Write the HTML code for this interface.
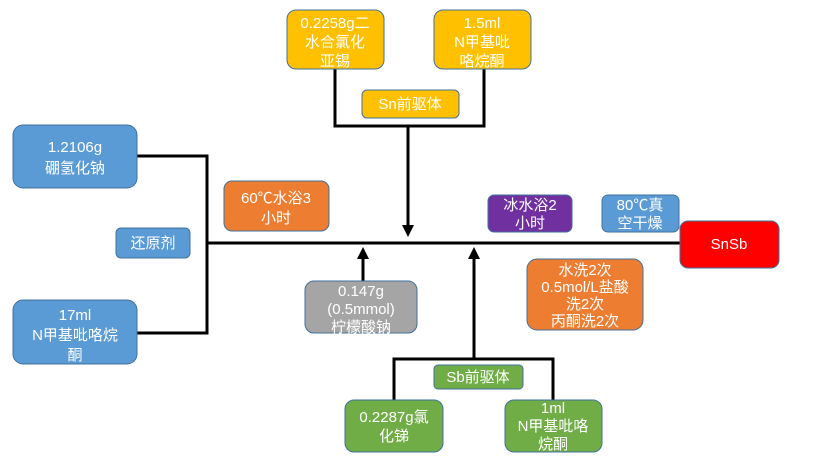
<!DOCTYPE html>
<html><head><meta charset="utf-8"><style>
body{margin:0;width:824px;height:462px;background:#fff;overflow:hidden}
svg text{font-family:"Liberation Sans","Noto Sans CJK SC",sans-serif;font-size:15px;fill:#fff;text-anchor:middle}
</style></head><body>
<svg width="824" height="462" viewBox="0 0 824 462" xmlns="http://www.w3.org/2000/svg">
<defs><marker id="a" markerWidth="12" markerHeight="12" refX="6" refY="6" orient="auto" markerUnits="userSpaceOnUse"><path d="M0,0 L12,6 L0,12 z" fill="#000"/></marker></defs>
<g stroke="#000" stroke-width="3" fill="none">
<path d="M137,156 H207 V333 H137"/>
<path d="M207,243 H680"/>
<path d="M335,69 V126 H484 V69"/>
<path d="M408,126 V231" marker-end="url(#a)"/>
<path d="M363,281 V253" marker-end="url(#a)"/>
<path d="M394,400 V359 H553 V400"/>
<path d="M474,359 V253" marker-end="url(#a)"/>
</g>
<g stroke="#41719c" stroke-width="1">
<rect x="13" y="125" width="124" height="63" rx="10" fill="#5b9bd5"/>
<rect x="13" y="300" width="124" height="64" rx="10" fill="#5b9bd5"/>
<rect x="116" y="228" width="74" height="30" rx="5" fill="#5b9bd5"/>
<rect x="287" y="10" width="97" height="59" rx="9" fill="#ffc000"/>
<rect x="434" y="10" width="97" height="59" rx="9" fill="#ffc000"/>
<rect x="362" y="90" width="97" height="28" rx="5" fill="#ffc000"/>
<rect x="224" y="181" width="105" height="50" rx="8" fill="#ed7d31"/>
<rect x="488" y="195" width="84" height="37" rx="6" fill="#7030a0"/>
<rect x="602" y="195" width="77" height="37" rx="6" fill="#5b9bd5"/>
<rect x="680" y="221" width="99" height="47" rx="8" fill="#ff0000"/>
<rect x="527" y="259" width="116" height="71" rx="10" fill="#ed7d31"/>
<rect x="305" y="281" width="112" height="52" rx="9" fill="#a5a5a5"/>
<rect x="434" y="365" width="89" height="24" rx="4" fill="#70ad47"/>
<rect x="345" y="400" width="98" height="52" rx="9" fill="#70ad47"/>
<rect x="505" y="400" width="97" height="52" rx="9" fill="#70ad47"/>
</g>
<text x="75" y="152">1.2106g</text><text x="75" y="173">硼氢化钠</text>
<text x="75" y="320">17ml</text><text x="75" y="340">N甲基吡咯烷</text><text x="75" y="360">酮</text>
<text x="153" y="248">还原剂</text>
<text x="335" y="28">0.2258g二</text><text x="335" y="47">水合氯化</text><text x="335" y="66">亚锡</text>
<text x="482" y="28">1.5ml</text><text x="482" y="47">N甲基吡</text><text x="482" y="66">咯烷酮</text>
<text x="410" y="109">Sn前驱体</text>
<text x="276" y="203">60℃水浴3</text><text x="276" y="223">小时</text>
<text x="530" y="210">冰水浴2</text><text x="530" y="228">小时</text>
<text x="640" y="210" font-size="13">80℃真</text><text x="640" y="228">空干燥</text>
<text x="729" y="249">SnSb</text>
<text x="585" y="275" font-size="14">水洗2次</text><text x="585" y="292" font-size="14">0.5mol/L盐酸</text><text x="585" y="309" font-size="14">洗2次</text><text x="585" y="326" font-size="14">丙酮洗2次</text>
<text x="361" y="296">0.147g</text><text x="361" y="314">(0.5mmol)</text><text x="361" y="332">柠檬酸钠</text>
<text x="478" y="382">Sb前驱体</text>
<text x="394" y="422">0.2287g氯</text><text x="394" y="441">化锑</text>
<text x="553" y="413">1ml</text><text x="553" y="431">N甲基吡咯</text><text x="553" y="449">烷酮</text>
</svg>
</body></html>
